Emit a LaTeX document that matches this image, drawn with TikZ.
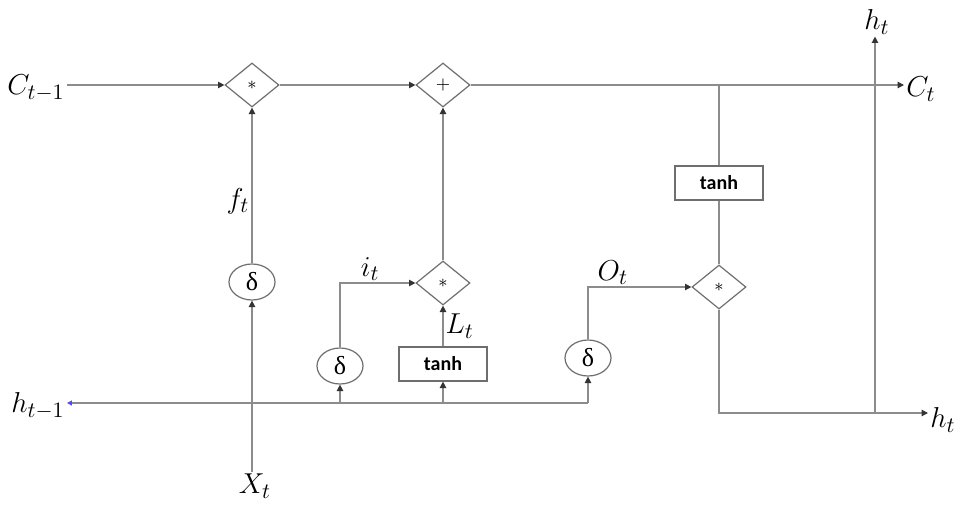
\documentclass[tikz,border=0pt]{standalone}
\usepackage{fontspec}
\usetikzlibrary{shapes.geometric,arrows.meta}
\newfontfamily\gatefont{Carlito}
\newfontfamily\greekfont{Liberation Serif}
\definecolor{wireGray}{HTML}{8C8C8C}
\definecolor{edgeGray}{HTML}{6E6E6E}

\begin{document}
\begin{tikzpicture}[
    x=0.5pt, y=-0.5pt,
    wire/.style={draw=wireGray, line width=0.65pt},
    arr/.style={wire, -{Triangle[length=3.2pt,width=3.2pt,color=black!80]}},
    label/.style={inner sep=1pt, font=\fontsize{15}{17}\selectfont},
    mulGate/.style={diamond, draw=edgeGray, line width=0.6pt, inner sep=0pt,
        minimum width=27pt, minimum height=22pt, font=\small},
    sigGate/.style={ellipse, draw=edgeGray, line width=0.6pt, inner sep=0pt,
        minimum width=23pt, minimum height=18pt, font=\greekfont\fontsize{13}{13}\selectfont},
    tanhBox/.style={rectangle, draw=edgeGray, line width=0.6pt, inner sep=0pt,
        minimum width=44pt, minimum height=17pt, font=\gatefont\bfseries\fontsize{10}{12}\selectfont}
]
    \useasboundingbox (0,0) rectangle (959,504);

    % --- 1. Cell state line ---
    \node[label] (cin) at (36,88) {$C_{t-1}$};
    \node[mulGate] (mul1) at (252,85) {$*$};
    \node[mulGate] (add) at (443,85) {$+$};
    \node[label, anchor=west] (cout) at (904,89) {$C_t$};
    \draw[arr] (cin.east |- mul1) -- (mul1.west);
    \draw[arr] (mul1.east) -- (add.west);
    \draw[arr] (add.east) -- (cout.west |- add);

    % --- 2. Forget gate ---
    \node[label] (xin) at (255,486) {$X_t$};
    \node[sigGate] (sig1) at (252,282) {δ};
    \draw[arr] (xin.north -| sig1) -- (sig1.south);
    \draw[arr] (sig1.north) -- node[label, left, pos=0.4] {$f_t$} (mul1.south);

    % --- 3. Input gate ---
    \node[label] (hin) at (38,406) {$h_{t-1}$};
    \coordinate (h1) at (340,403);
    \coordinate (h2) at (443,403);
    \coordinate (h3) at (588,403);
    \node[sigGate] (sig2) at (340,366) {δ};
    \node[tanhBox] (tanhL) at (443,364) {tanh};
    \node[mulGate] (mul2) at (443,283) {$*$};
    \draw[wire, -{Triangle[length=2.5pt,width=2.5pt,color=blue!70]}] (h3) -- (hin.east |- h3);
    \draw[arr] (h1) -- (sig2.south);
    \draw[arr] (h2) -- (tanhL.south);
    \draw[arr] (sig2.north) |- node[label, above, pos=0.7] {$i_t$} (mul2.west);
    \draw[arr] (tanhL.north) -- node[label, right, pos=0.5] {$L_t$} (mul2.south);
    \draw[arr] (mul2.north) -- (add.south);

    % --- 4. Output gate ---
    \node[sigGate] (sig3) at (588,358) {δ};
    \node[tanhBox] (tanhC) at (719,183) {tanh};
    \node[mulGate] (mul3) at (719,287) {$*$};
    \coordinate (cbr) at (719,85);
    \draw[arr] (h3) -- (sig3.south);
    \draw[arr] (sig3.north) |- node[label, above, pos=0.62] {$O_t$} (mul3.west);
    \draw[wire] (cbr) -- (tanhC.north);
    \draw[wire] (tanhC.south) -- (mul3.north);

    % --- 5. Hidden state outputs ---
    \node[label, anchor=west] (hout) at (928,420) {$h_t$};
    \node[label] (htop) at (877,22) {$h_t$};
    \coordinate (hbr) at (875,413);
    \draw[arr] (mul3.south) |- (hout.west |- hbr);
    \draw[arr] (hbr) -- (htop.south -| hbr);
\end{tikzpicture}
\end{document}
